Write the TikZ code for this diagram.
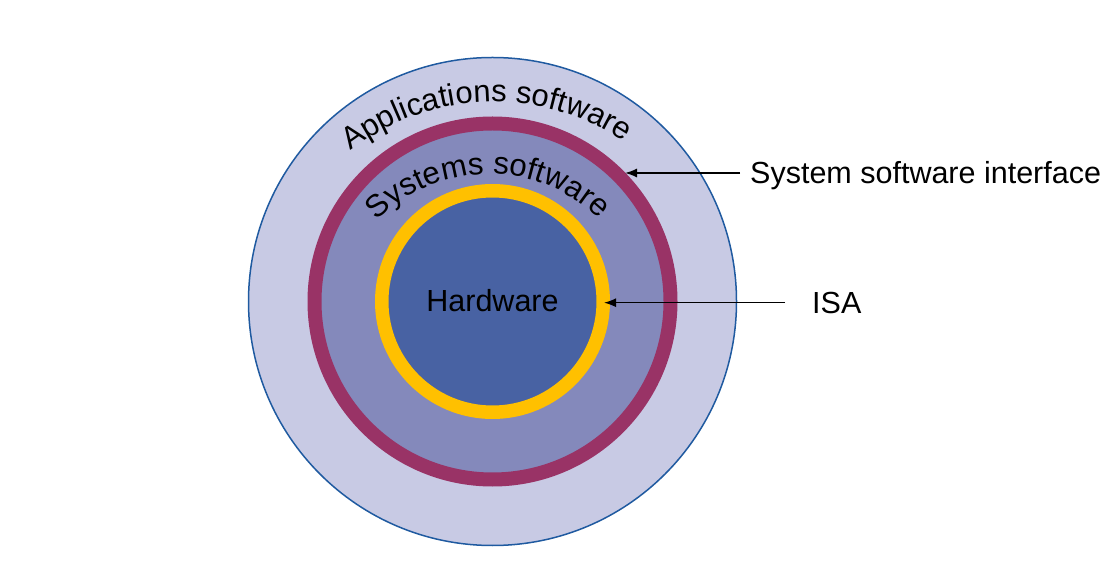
\documentclass[tikz,border=0pt]{standalone}
\usepackage{fontspec}
\setmainfont{Liberation Sans}
\usetikzlibrary{decorations.text,arrows.meta}
\definecolor{appfill}{HTML}{C8CAE4}
\definecolor{appline}{HTML}{1F5AA0}
\definecolor{sysfill}{HTML}{8489BB}
\definecolor{ssiring}{HTML}{993366}
\definecolor{hwfill}{HTML}{4862A3}
\definecolor{isaring}{HTML}{FFC000}
\begin{document}
\begin{tikzpicture}[x=1pt,y=1pt,
  lbl/.style={font=\fontsize{30.5}{36}\selectfont, inner sep=0pt},
  ptr/.style={-{Latex[length=12pt,width=9pt]}, line width=1.5pt, black},
  arctext/.style 2 args={decorate, decoration={text along path, text align=center,
      text={|\fontsize{#1}{36}\selectfont|#2}}}]
\useasboundingbox (0,0) rectangle (1103,584);
\coordinate (C) at (492.5,282.5);
% layers
\fill[appfill] (C) circle[radius=244];
\draw[appline, line width=1.5pt] (C) circle[radius=244];
\fill[sysfill] (C) circle[radius=178];
\draw[ssiring, line width=14pt] (C) circle[radius=178];
\fill[hwfill] (C) circle[radius=111];
\draw[isaring, line width=13.5pt] (C) circle[radius=110.75];
% texts
\node[lbl] (hw) at (492.5,283.5) {Hardware};
\coordinate (A) at (494,247);
\path[arctext={31}{Applications software}] (A) ++(144:235) arc[start angle=144, end angle=40, radius=235];
\coordinate (S) at (489,252);
\path[arctext={31.2}{Systems software}] (S) ++(148:158) arc[start angle=148, end angle=33, radius=158];
\node[lbl, anchor=base west] (ssi) at (750,400) {System software interface};
\node[lbl, anchor=base west] (isa) at (812,270) {ISA};
% pointers
\coordinate (ssiTail) at (740,411);
\coordinate (ssiTip) at (625,411);
\coordinate (isaTail) at (785,281.3);
\coordinate (isaTip) at (604,281.3);
\draw[ptr] (ssiTail) -- (ssiTip);
\draw[ptr] (isaTail) -- (isaTip);
\end{tikzpicture}
\end{document}
